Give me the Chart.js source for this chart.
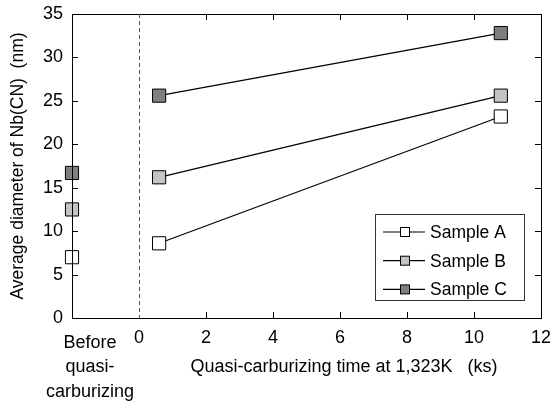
<!DOCTYPE html>
<html>
<head>
<meta charset="utf-8">
<script src="https://cdn.jsdelivr.net/npm/chart.js@4/dist/chart.umd.min.js"></script>
<style>
  html, body { margin: 0; padding: 0; background: #fff; }
  canvas { display: block; }
</style>
</head>
<body>
<canvas id="chart" width="553" height="401"></canvas>
<script>
// x = -2 stands for "before quasi-carburizing"
const times = [-2, 0.6, 10.8];
const sampleA = [7.0, 8.6, 23.2];
const sampleB = [12.5, 16.2, 25.6];
const sampleC = [16.7, 25.6, 32.8];
const seriesNames = ["Sample A", "Sample B", "Sample C"];
const fills = ["#ffffff", "#c4c4c4", "#7f7f7f"];

const FONT = "'Liberation Sans', Arial, sans-serif";

function makeSet(label, values, fill) {
    return {
        label: label,
        data: times.map((t, i) => ({ x: t, y: values[i] })),
        borderColor: "#000",
        borderWidth: 1.2,
        pointStyle: "rect",
        pointRadius: 9.3,
        pointHoverRadius: 9.3,
        pointBackgroundColor: fill,
        pointBorderColor: "#000",
        pointBorderWidth: 1,
        clip: false,
        // no line from the "before" point
        segment: {
            borderColor: ctx => ctx.p0DataIndex === 0 ? "rgba(0,0,0,0)" : "#000"
        }
    };
}

const frame = {
    id: "frame",
    afterDraw(chart) {
        const { ctx, chartArea: a, scales } = chart;
        const x = scales.x, y = scales.y;
        ctx.save();
        // box
        ctx.strokeStyle = "#000";
        ctx.lineWidth = 1;
        ctx.strokeRect(a.left + 0.5, a.top + 0.5, a.right - a.left, a.bottom - a.top);
        // inward ticks
        for (let v = 2; v <= 10; v += 2) {
            const px = Math.round(x.getPixelForValue(v)) + 0.5;
            ctx.beginPath();
            ctx.moveTo(px, a.bottom); ctx.lineTo(px, a.bottom - 6);
            ctx.moveTo(px, a.top); ctx.lineTo(px, a.top + 6);
            ctx.stroke();
        }
        for (let v = 5; v <= 30; v += 5) {
            const py = Math.round(y.getPixelForValue(v)) + 0.5;
            ctx.beginPath();
            ctx.moveTo(a.left, py); ctx.lineTo(a.left + 6, py);
            ctx.moveTo(a.right, py); ctx.lineTo(a.right - 6, py);
            ctx.stroke();
        }
        // dashed line at t = 0
        const x0 = Math.round(x.getPixelForValue(0)) + 0.5;
        ctx.strokeStyle = "#555";
        ctx.setLineDash([4, 3]);
        ctx.beginPath();
        ctx.moveTo(x0, a.top); ctx.lineTo(x0, a.bottom);
        ctx.stroke();
        ctx.setLineDash([]);

        // text under the axis
        ctx.fillStyle = "#000";
        ctx.textAlign = "center";
        ctx.textBaseline = "middle";
        ctx.font = "18px " + FONT;
        ["Before", "quasi-", "carburizing"].forEach((s, i) => {
            ctx.fillText(s, a.left + 18, a.bottom + 25 + i * 24.5);
        });
        const tx = (x.getPixelForValue(0) + x.getPixelForValue(12)) / 2 + 4;
        ctx.fillText("Quasi-carburizing time at 1,323K   (ks)", tx, a.bottom + 49);

        // legend box
        const lx = a.right - 166, ly = a.bottom - 104, lw = 149, lh = 86;
        ctx.strokeStyle = "#333";
        ctx.strokeRect(lx + 0.5, ly + 0.5, lw, lh);
        ctx.textAlign = "left";
        ctx.font = "17.5px " + FONT;
        chart.data.datasets.forEach((ds, i) => {
            const cy = ly + 18 + i * 28.7;
            ctx.strokeStyle = "#000";
            ctx.lineWidth = 1.2;
            ctx.beginPath();
            ctx.moveTo(lx + 8, cy); ctx.lineTo(lx + 50, cy);
            ctx.stroke();
            ctx.fillStyle = ds.pointBackgroundColor;
            ctx.lineWidth = 1;
            ctx.fillRect(lx + 25, cy - 4.5, 9, 9);
            ctx.strokeRect(lx + 25.5, cy - 4.5, 9, 9);
            ctx.fillStyle = "#000";
            ctx.fillText(ds.label, lx + 55, cy + 1);
        });
        ctx.restore();
    }
};

function noOverhang(s) {
    s.paddingTop = 0;
    s.paddingBottom = 0;
    s.paddingLeft = 0;
    s.paddingRight = 0;
}

new Chart(document.getElementById("chart"), {
    type: "line",
    data: {
        datasets: [
            makeSet(seriesNames[0], sampleA, fills[0]),
            makeSet(seriesNames[1], sampleB, fills[1]),
            makeSet(seriesNames[2], sampleC, fills[2])
        ]
    },
    options: {
        responsive: false,
        animation: false,
        devicePixelRatio: 1,
        layout: { padding: { top: 14, right: 12, left: 0, bottom: 0 } },
        plugins: { legend: { display: false }, tooltip: { enabled: false } },
        scales: {
            x: {
                type: "linear",
                min: -2,
                max: 12,
                grid: { display: false, drawTicks: false },
                border: { display: false },
                ticks: {
                    stepSize: 2,
                    color: "#000",
                    font: { family: FONT, size: 18 },
                    padding: 9,
                    maxRotation: 0,
                    callback: v => v < 0 ? "" : v
                },
                afterFit: s => { s.height = 83; noOverhang(s); }
            },
            y: {
                min: 0,
                max: 35,
                grid: { display: false, drawTicks: false },
                border: { display: false },
                ticks: {
                    stepSize: 5,
                    color: "#000",
                    font: { family: FONT, size: 18 },
                    padding: 9
                },
                title: {
                    display: true,
                    text: "Average diameter of Nb(CN)  (nm)",
                    color: "#000",
                    font: { family: FONT, size: 17.5 },
                    padding: { top: 8, bottom: 0 }
                },
                afterFit: s => { s.width = 72; noOverhang(s); }
            }
        }
    },
    plugins: [frame]
});
</script>
</body>
</html>
